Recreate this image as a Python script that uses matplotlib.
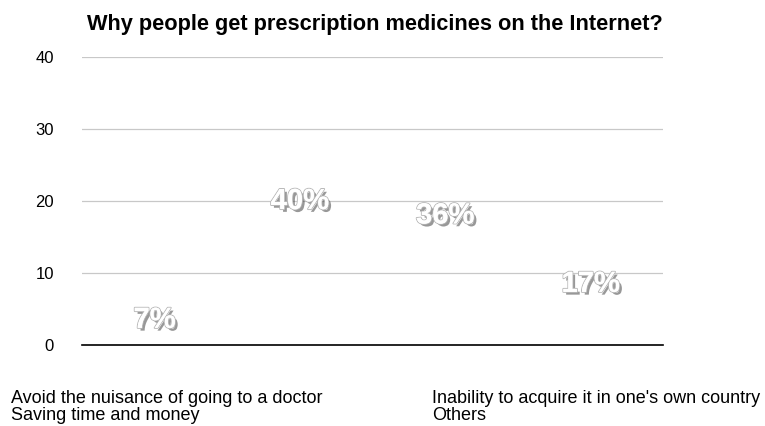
import numpy as np
import matplotlib.pyplot as plt
import matplotlib.patheffects as pe
from matplotlib.patches import Patch

reasons = [
    "Avoid the nuisance of going to a doctor",
    "Saving time and money",
    "Inability to acquire it in one's own country",
    "Others",
]
shares = [7, 40, 36, 17]
yticks = [0, 10, 20, 30, 40]

plt.rcParams["font.family"] = ["Liberation Sans", "DejaVu Sans"]

fig = plt.figure(figsize=(7.65, 4.26), dpi=100)
ax = fig.add_axes([0.107, 0.190, 0.760, 0.676])

x = np.arange(len(shares))
bars = ax.bar(x, shares, width=0.8, color="none", edgecolor="none")

# labels sit in the middle of each (invisible) bar
for xi, v in zip(x, shares):
    ax.text(
        xi, v / 2, f"{v}%", ha="center", va="center",
        fontsize=21, fontweight="bold", color="white",
        path_effects=[
            pe.SimplePatchShadow(offset=(2, -2), shadow_rgbFace="#333333", alpha=0.5),
            pe.withStroke(linewidth=1.4, foreground="#b8b8b8"),
            pe.Normal(),
        ],
    )

ax.set_xlim(-0.5, 3.5)
ax.set_ylim(0, 40)
ax.set_yticks(yticks)
ax.set_xticks([])
ax.tick_params(axis="y", length=0, labelsize=12, pad=20)
ax.yaxis.grid(True, color="#c8c8c8", linewidth=0.9)
ax.set_axisbelow(True)
for s in ["top", "right", "left"]:
    ax.spines[s].set_visible(False)
ax.spines["bottom"].set_color("black")
ax.spines["bottom"].set_linewidth(1.2)
ax.spines["bottom"].set_zorder(5)

fig.text(0.490, 0.942, "Why people get prescription medicines on the Internet?",
         ha="center", va="center", fontsize=15.7, fontweight="bold")

handles = [Patch(facecolor="none", edgecolor="none") for _ in reasons]
fig.legend(handles, reasons, ncol=2, loc="lower left", bbox_to_anchor=(0.0, -0.02),
           frameon=False, fontsize=13, handlelength=0, handletextpad=0,
           columnspacing=6.1, labelspacing=0.0, borderaxespad=0.2)

plt.savefig("out.png", dpi=100)
